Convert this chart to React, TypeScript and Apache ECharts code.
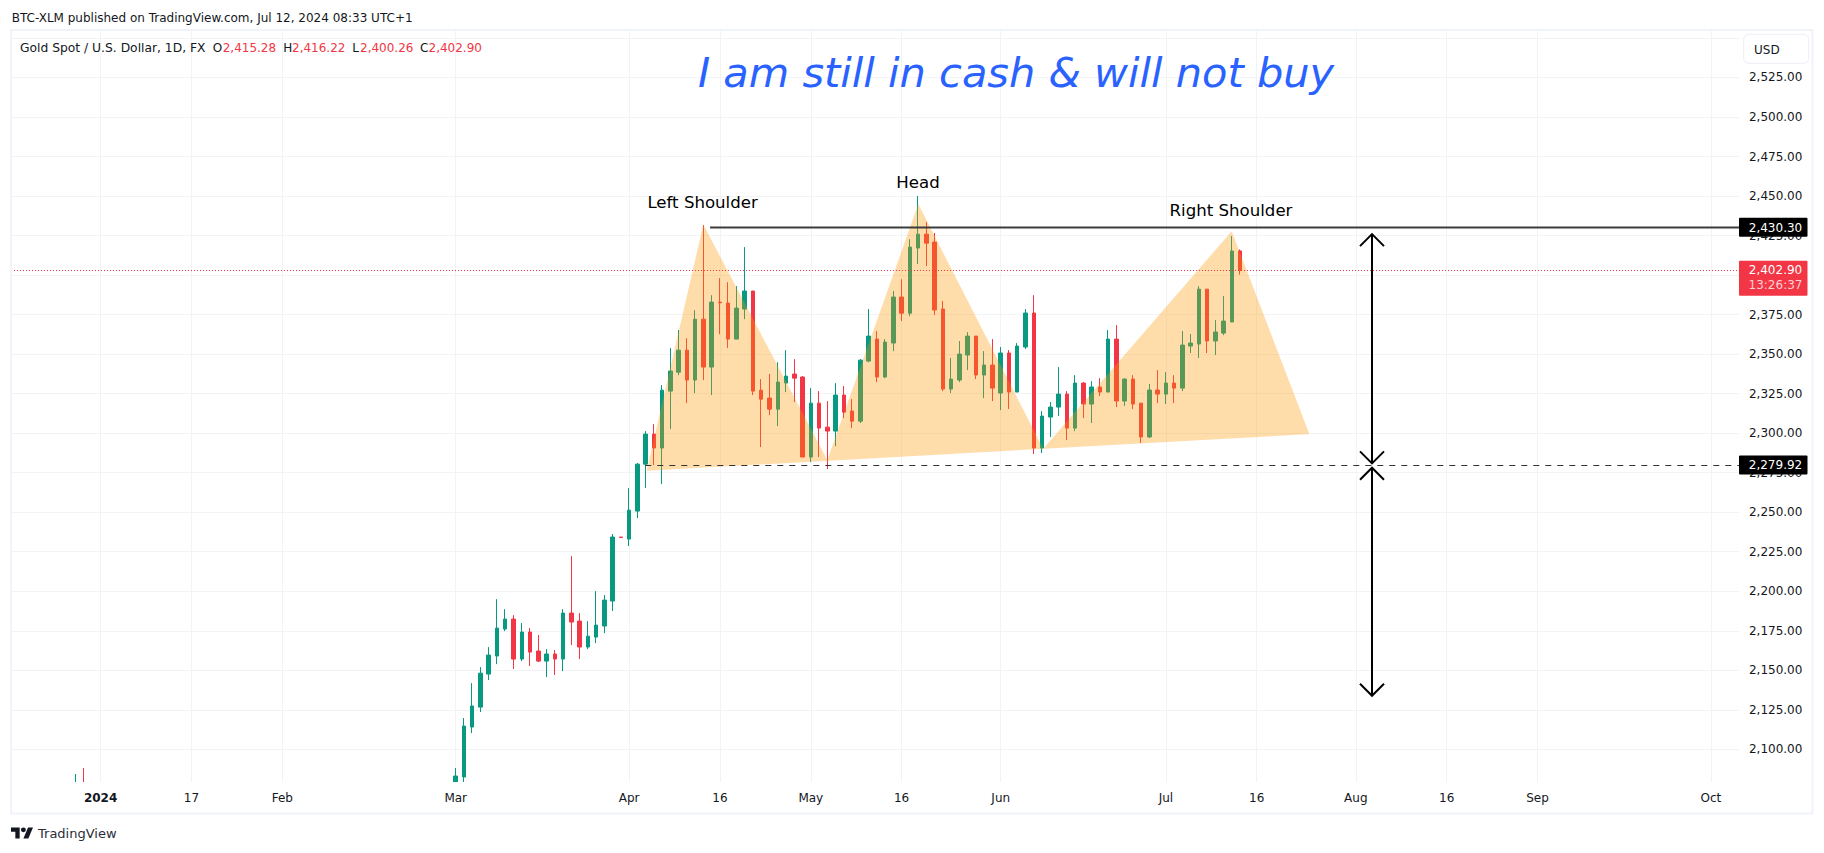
import React, { useEffect, useRef } from "react";
import * as echarts from "echarts";

// Bars are numbered by trading day, 0 = first bar of 2024.
const firstIndex = -11;
const lastIndex = 199;
const tickIndexes = [0, 11, 22, 43, 64, 75, 86, 97, 109, 129, 140, 152, 163, 174, 195];
const tickLabels = ["2024", "17", "Feb", "Mar", "Apr", "16", "May", "16", "Jun", "Jul", "16", "Aug", "16", "Sep", "Oct"];

// Two December bars whose wicks poke in at the bottom of the window
const decIndexes = [-3, -2];
const decCandles = [
  [2067, 2077, 2061, 2084.4],
  [2077, 2062, 2058, 2088.2],
];

// Bars from 1 March (index 43) to 12 July
const marchStart = 43;
const opens = [
  2044, 2082.5, 2114.1, 2126.7, 2147.6, 2159.0, 2176.1, 2182.4, 2157.1, 2174.2, 2162.2, 2155.8, 2160.3, 2157.1, 2186.2, 2181.1,
  2164.7, 2171.0, 2178.0, 2193.8, 2234.3, 2233.0, 2250.7, 2280.4, 2299.4, 2290.6, 2326.6, 2338.6, 2352.5, 2333.6, 2372.1, 2341.8,
  2382.9, 2382.3, 2359.5, 2378.5, 2389.9, 2327.2, 2322.2, 2315.2, 2331.7, 2337.4, 2335.5, 2284.9, 2319.0, 2303.8, 2301.3, 2324.1,
  2314.0, 2307.6, 2345.6, 2359.5, 2335.5, 2357.0, 2386.1, 2375.9, 2417.1, 2425.9, 2420.9, 2378.5, 2327.9, 2333.6, 2349.4, 2361.4,
  2336.8, 2343.1, 2325.4, 2350.7, 2326.0, 2354.5, 2376.0, 2290.6, 2310.2, 2316.5, 2324.7, 2303.2, 2331.7, 2318.4, 2329.2, 2326.0,
  2359.5, 2320.3, 2334.2, 2319.0, 2297.6, 2327.3, 2324.7, 2331.7, 2328.5, 2355.1, 2356.4, 2391.1, 2358.3, 2363.3, 2370.3, 2415.28,
];
const closes = [
  2083.1, 2114.7, 2127.4, 2148.2, 2159.6, 2176.7, 2182.4, 2157.1, 2174.2, 2161.5, 2155.8, 2160.3, 2157.1, 2186.2, 2180.5, 2164.7,
  2171.6, 2178.6, 2194.4, 2234.3, 2234.0, 2251.3, 2280.4, 2299.4, 2290.6, 2327.2, 2339.3, 2352.5, 2333.6, 2372.1, 2341.8, 2382.9,
  2382.5, 2359.5, 2379.1, 2389.9, 2326.6, 2321.5, 2315.2, 2332.3, 2336.1, 2334.8, 2284.9, 2319.0, 2303.2, 2301.3, 2324.1, 2313.3,
  2307.6, 2346.2, 2361.4, 2335.5, 2357.6, 2386.1, 2375.9, 2417.7, 2425.9, 2420.2, 2377.9, 2327.9, 2334.2, 2350.0, 2361.4, 2336.8,
  2343.1, 2328.5, 2350.7, 2326.0, 2355.1, 2376.0, 2290.6, 2310.8, 2316.5, 2324.7, 2303.2, 2331.7, 2318.4, 2329.2, 2326.0, 2359.5,
  2320.3, 2334.2, 2318.4, 2297.6, 2327.3, 2324.7, 2331.7, 2328.5, 2355.7, 2357.0, 2391.1, 2358.3, 2364.0, 2370.9, 2415.2, 2402.9,
];
const lows = [
  2038, 2078, 2110.3, 2123.6, 2143.8, 2153.9, 2174.8, 2150.8, 2155.8, 2152.7, 2155.2, 2145.7, 2147.0, 2149.5, 2166.0, 2157.1,
  2163.4, 2167.2, 2173.5, 2187.5, 2234.0, 2228.6, 2246.3, 2265.3, 2279.8, 2267.8, 2302.6, 2336.7, 2319.0, 2325.3, 2333.6, 2324.1,
  2362.6, 2353.8, 2359.5, 2372.1, 2324.1, 2291.2, 2311.4, 2304.5, 2326.0, 2319.6, 2284.9, 2281.7, 2284.9, 2277.3, 2291.8, 2309.5,
  2303.2, 2306.4, 2344.9, 2332.3, 2334.8, 2351.9, 2370.9, 2374.0, 2407.0, 2405.7, 2374.7, 2326.6, 2325.4, 2332.3, 2339.9, 2334.2,
  2322.2, 2320.3, 2314.6, 2315.3, 2326.0, 2353.2, 2286.8, 2287.4, 2297.6, 2310.8, 2295.6, 2301.3, 2309.6, 2306.4, 2323.5, 2326.0,
  2316.5, 2317.2, 2315.3, 2293.8, 2296.9, 2319.0, 2318.4, 2319.0, 2326.6, 2350.7, 2347.5, 2350.7, 2349.4, 2362.0, 2370.3, 2400.26,
];
const highs = [
  2088.2, 2119.8, 2141.9, 2152.0, 2164.7, 2195.0, 2188.7, 2184.9, 2179.9, 2176.7, 2172.3, 2163.4, 2162.8, 2188.7, 2222.2, 2186.2,
  2181.1, 2200.1, 2197.6, 2236.2, 2234.3, 2265.2, 2281.1, 2301.3, 2305.7, 2330.4, 2353.8, 2365.2, 2360.1, 2377.8, 2431.6, 2387.3,
  2398.1, 2395.5, 2393.0, 2417.7, 2389.9, 2334.2, 2337.4, 2344.9, 2352.5, 2346.8, 2336.1, 2328.5, 2326.6, 2320.3, 2331.7, 2329.8,
  2321.6, 2346.8, 2378.5, 2364.6, 2359.5, 2389.9, 2397.4, 2422.7, 2450.0, 2433.5, 2426.6, 2383.6, 2347.5, 2358.3, 2363.9, 2361.4,
  2351.9, 2359.5, 2354.5, 2352.6, 2357.0, 2378.5, 2387.3, 2314.0, 2319.7, 2341.8, 2326.6, 2336.7, 2332.3, 2332.9, 2334.8, 2365.2,
  2368.4, 2334.8, 2336.7, 2319.0, 2331.1, 2339.9, 2338.6, 2336.7, 2364.6, 2362.7, 2393.0, 2391.1, 2371.5, 2386.7, 2424.7, 2416.22,
];

// Head-and-shoulders drawing [bar index, price]
const patternXs = [66.13, 72.98, 88.0, 99.02, 114.15, 136.97, 146.37];
const patternYs = [2276.2, 2432.0, 2283.0, 2444.9, 2290.1, 2427.8, 2299.4];
const resistancePrice = 2430.3;
const resistanceStart = 73.8;
const neckPrice = 2279.92;
const neckStart = 65.96;
const lastPrice = 2402.9;
const arrowX = 153.96;
const arrowOne = [2425.9, 2280.9];
const arrowTwo = [2278.1, 2133.9];
const leftEdge = -10.85;
const rightEdge = 198.4;

const FONT = '"DejaVu Sans"';
const INK = "#131722";
const UP = "#089981";
const DOWN = "#F23645";
const GRID = "#f2f3f5";
const FRAME = "#f0f3fa";

const LOGO_D = "M14 22H7V11H0V4h14v18zM28 22h-8l7.5-18h8L28 22zM24 8a4 4 0 1 1-8 0 4 4 0 0 1 8 0z";

function fmt(v: number) {
  return v.toLocaleString("en-US", { minimumFractionDigits: 2, maximumFractionDigits: 2 });
}

export default function App() {
  const ref = useRef<HTMLDivElement>(null);
  useEffect(() => {
    if (!ref.current) return;
    document.body.style.margin = "0";
    document.body.style.background = "#fff";
    echarts.graphic.registerShape("tvlogo", echarts.graphic.extendPath(LOGO_D as any, {}) as any);
    const chart = echarts.init(ref.current, undefined, { renderer: "svg" });

    const count = lastIndex - firstIndex + 1;
    const categories: string[] = [];
    const candles: any[] = [];
    for (let k = 0; k < count; k++) {
      const idx = firstIndex + k;
      const t = tickIndexes.indexOf(idx);
      categories.push(t >= 0 ? tickLabels[t] : "");
      const d = decIndexes.indexOf(idx);
      const m = idx - marchStart;
      if (d >= 0) candles.push(decCandles[d]);
      else if (m >= 0 && m < opens.length) candles.push([opens[m], closes[m], lows[m], highs[m]]);
      else candles.push(["-", "-", "-", "-"]);
    }
    const isTick = (index: number) => tickIndexes.indexOf(index + firstIndex) >= 0;

    const renderDrawings = (_p: any, api: any) => {
      const c = (x: number, y: number) => api.coord([x, y]);
      const children: any[] = [];
      children.push({
        type: "polygon",
        shape: { points: patternXs.map((x, i) => c(x, patternYs[i])) },
        style: { fill: "rgba(255,152,0,0.33)" },
      });
      const hline = (x0: number, price: number, stroke: string, lineWidth: number, lineDash?: number[]) => {
        const a = c(x0, price);
        const b = c(rightEdge, price);
        children.push({
          type: "line",
          shape: { x1: a[0], y1: Math.round(a[1]) + 0.5, x2: b[0], y2: Math.round(a[1]) + 0.5 },
          style: { stroke, lineWidth, lineDash },
        });
      };
      hline(leftEdge, lastPrice, DOWN, 1, [1, 2]);
      hline(resistanceStart, resistancePrice, "#3c3c3c", 2);
      hline(neckStart, neckPrice, "#333333", 1, [6, 6]);

      const arrow = (range: number[]) => {
        const top = c(arrowX, range[0]);
        const bot = c(arrowX, range[1]);
        const st = { stroke: "#000", lineWidth: 2, fill: "none" };
        children.push({ type: "line", shape: { x1: top[0], y1: top[1], x2: bot[0], y2: bot[1] }, style: st });
        children.push({
          type: "polyline",
          shape: { points: [[top[0] - 12, top[1] + 12], top, [top[0] + 12, top[1] + 12]] },
          style: st,
        });
        children.push({
          type: "polyline",
          shape: { points: [[bot[0] - 12, bot[1] - 12], bot, [bot[0] + 12, bot[1] - 12]] },
          style: st,
        });
      };
      arrow(arrowOne);
      arrow(arrowTwo);

      const badge = (price: number, text: string) => {
        const y = c(rightEdge, price)[1];
        children.push({ type: "rect", shape: { x: 1739, y: y - 9.5, width: 68.5, height: 19, r: 1 }, style: { fill: "#000" } });
        children.push({
          type: "text",
          x: 1775.5,
          y: y + 0.5,
          style: { text, fill: "#fff", fontFamily: FONT, fontSize: 12, align: "center", verticalAlign: "middle" },
        });
      };
      badge(resistancePrice, fmt(resistancePrice));
      badge(neckPrice, fmt(neckPrice));
      const ly = c(rightEdge, lastPrice)[1];
      children.push({ type: "rect", shape: { x: 1739, y: ly - 9.7, width: 68.5, height: 35, r: 1 }, style: { fill: DOWN } });
      children.push({
        type: "text",
        x: 1775.5,
        y: ly - 0.5,
        style: { text: fmt(lastPrice), fill: "#fff", fontFamily: FONT, fontSize: 12, align: "center", verticalAlign: "middle" },
      });
      children.push({
        type: "text",
        x: 1775.5,
        y: ly + 15,
        style: { text: "13:26:37", fill: "#fcd0d4", fontFamily: FONT, fontSize: 12, align: "center", verticalAlign: "middle" },
      });
      return { type: "group", children };
    };

    const txt = (text: string, x: number, y: number, fill: string, fontSize: number, extra: any = {}) => ({
      type: "text",
      x,
      y,
      z: 12,
      style: { text, fill, fontFamily: FONT, fontSize, verticalAlign: "middle", ...extra },
    });

    const option: any = {
      animation: false,
      backgroundColor: "#fff",
      grid: { left: 9.762, top: 31, width: 1734.18, height: 757.85, containLabel: false },
      xAxis: [
        {
          type: "category",
          data: categories,
          boundaryGap: false,
          axisLine: { show: false },
          axisTick: { show: false },
          axisLabel: { show: false },
          splitLine: { show: true, interval: (i: number) => isTick(i), lineStyle: { color: GRID, width: 1 } },
        },
        {
          type: "category",
          data: categories,
          boundaryGap: false,
          z: 20,
          axisLine: { show: false },
          axisTick: { show: false },
          splitLine: { show: false },
          position: "bottom",
          axisLabel: {
            show: true,
            interval: (i: number) => isTick(i),
            margin: 3,
            color: INK,
            fontFamily: FONT,
            fontSize: 12,
            hideOverlap: false,
            formatter: (v: string) => (v === "2024" ? "{b|2024}" : v),
            rich: { b: { fontFamily: FONT, fontSize: 12, fontWeight: 700, color: INK } },
          },
        },
        { type: "value", min: firstIndex, max: lastIndex, show: false, splitLine: { show: false } },
      ],
      yAxis: {
        type: "value",
        position: "right",
        min: 2075,
        max: 2554.4,
        interval: 25,
        scale: true,
        axisLine: { show: false },
        axisTick: { show: false },
        splitLine: { show: true, showMaxLine: false, showMinLine: false, lineStyle: { color: GRID, width: 1 } },
        axisLabel: {
          margin: 5,
          color: INK,
          fontFamily: FONT,
          fontSize: 12,
          showMaxLabel: false,
          showMinLabel: false,
          formatter: (v: number) => (v >= 2550 ? "" : fmt(v)),
        },
      },
      series: [
        {
          type: "candlestick",
          xAxisIndex: 0,
          yAxisIndex: 0,
          data: candles,
          barWidth: 4,
          clip: true,
          silent: true,
          itemStyle: { color: UP, color0: DOWN, borderColor: UP, borderColor0: DOWN, borderWidth: 1 },
        },
        {
          type: "custom",
          xAxisIndex: 2,
          yAxisIndex: 0,
          z: 4,
          clip: false,
          silent: true,
          data: [[0, 2300]],
          renderItem: renderDrawings,
        },
      ],
      graphic: {
        elements: [
          { type: "rect", z: 1, shape: { x: 1739, y: 31, width: 6, height: 760 }, style: { fill: "#fff" } },
          { type: "rect", z: 10, shape: { x: 0, y: 782, width: 1745, height: 71 }, style: { fill: "#fff" } },
          { type: "rect", z: 10, shape: { x: 0, y: 0, width: 10, height: 853 }, style: { fill: "#fff" } },
          { type: "rect", z: 11, shape: { x: 11, y: 30, width: 1801.5, height: 783.5 }, style: { fill: "none", stroke: FRAME, lineWidth: 2 } },
          { type: "rect", z: 11, shape: { x: 1743.7, y: 34.3, width: 65, height: 29, r: 5 }, style: { fill: "#fff", stroke: "#eceef4", lineWidth: 1 } },
          txt("USD", 1754, 49.5, INK, 12),
          txt("BTC-XLM published on TradingView.com, Jul 12, 2024 08:33 UTC+1", 11.7, 17.5, INK, 12),
          txt("Gold Spot / U.S. Dollar, 1D, FX", 20, 47.5, INK, 12.3),
          txt("O", 212.7, 47.5, INK, 12),
          txt("2,415.28", 222.7, 47.5, DOWN, 12),
          txt("H", 283.3, 47.5, INK, 12),
          txt("2,416.22", 292, 47.5, DOWN, 12),
          txt("L", 352.3, 47.5, INK, 12),
          txt("2,400.26", 360, 47.5, DOWN, 12),
          txt("C", 420, 47.5, INK, 12),
          txt("2,402.90", 428.5, 47.5, DOWN, 12),
          txt("I am still in cash & will not buy", 1016, 72, "#2962ff", 41.5, { fontStyle: "italic", align: "center" }),
          txt("Left Shoulder", 702.6, 202, "#000", 16.6, { align: "center" }),
          txt("Head", 918, 182.6, "#000", 16.6, { align: "center" }),
          txt("Right Shoulder", 1231, 210.5, "#000", 16.6, { align: "center" }),
          { type: "tvlogo", z: 12, x: 11, y: 824.9, scaleX: 0.62, scaleY: 0.62, style: { fill: "#131722" } },
          txt("TradingView", 38, 833.5, "#2a2e39", 13),
        ],
      },
    };
    chart.setOption(option);
    return () => chart.dispose();
  }, []);
  return <div ref={ref} style={{ position: "fixed", left: 0, top: 0, width: 1824, height: 853 }} />;
}
